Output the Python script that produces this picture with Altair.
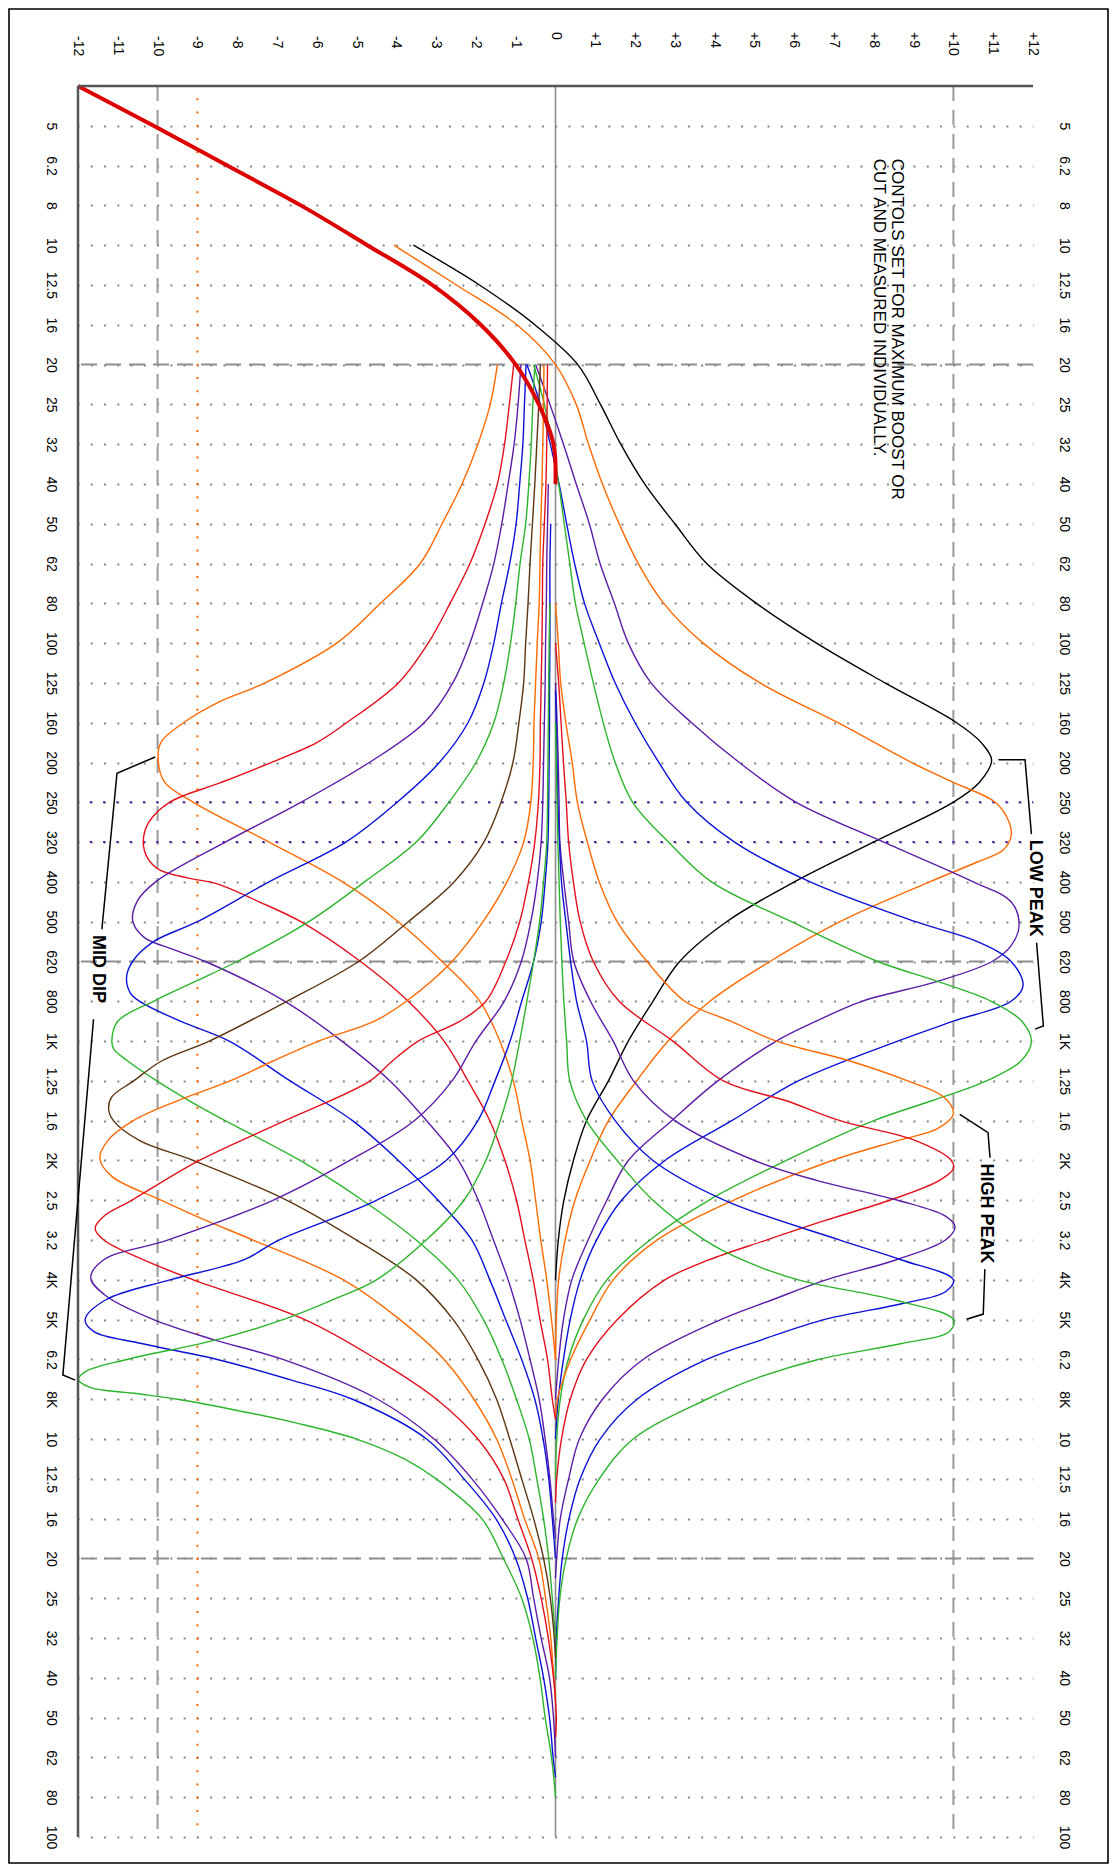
import json
import altair as alt
import pandas as pd

# ---------------------------------------------------------------- axes data
BAND_LABELS = ["5", "6.2", "8", "10", "12.5", "16", "20", "25", "32", "40", "50", "62", "80",
               "100", "125", "160", "200", "250", "320", "400", "500", "620", "800", "1K",
               "1.25", "1.6", "2K", "2.5", "3.2", "4K", "5K", "6.2", "8K", "10", "12.5", "16",
               "20", "25", "32", "40", "50", "62", "80", "100"]
DB_TICKS = list(range(-12, 13))
DB_LABELS = [("+%d" % v if v > 0 else "%d" % v) for v in DB_TICKS]
FIRST_BAND, LAST_BAND = -1, 43          # plot spans 4 Hz .. 100 kHz


def hz(band):
    """band index (0 = 5 Hz, ten bands per decade) -> Hz"""
    return 5.0 * 10 ** (band / 10.0)


# ---------------------------------------------------------------- curves  (band, dB)
HPF_RED = [(-1, -12.0), (0, -10.1), (1, -8.25), (2, -6.4), (3, -4.73), (4, -3.1), (5, -1.88),
           (6, -1.0), (7, -0.42), (8, -0.05), (9, 0.0)]

LOW_BLACK = [(3, -3.57), (4, -1.91), (5, -0.52), (6, 0.56), (7, 1.13), (8, 1.64), (9, 2.24),
             (10, 3.0), (11, 3.8), (12, 5.05), (13, 6.56), (14, 8.28), (15, 10.08), (15.5, 10.7),
             (15.94, 10.96), (16.5, 10.65), (17, 9.99), (18, 7.99), (19, 6.0), (20, 4.3),
             (21, 3.12), (22, 2.45), (23, 1.83), (24, 1.33), (25, 0.78), (26, 0.45), (27, 0.21),
             (28, 0.07), (29, 0.0)]
LOW_ORANGE = [(3, -4.06), (4, -2.49), (5, -0.97), (6, 0.0), (7, 0.52), (8, 0.83), (9, 1.18),
              (10, 1.6), (11, 2.08), (12, 2.72), (13, 3.71), (14, 5.14), (15, 7.1), (16, 8.95),
              (16.5, 10.0), (17, 11.05), (17.5, 11.4), (17.85, 11.45), (18.2, 11.25),
              (18.5, 10.6), (19, 9.4), (20, 7.15), (21, 5.39), (22, 3.88), (23, 2.83),
              (24, 2.04), (25, 1.33), (26, 0.87), (27, 0.49), (28, 0.24), (29, 0.08),
              (30, 0.02), (31, 0.0)]
LOW_PURPLE = [(6, -0.5), (7, -0.14), (8, 0.2), (9, 0.52), (10, 0.85), (11, 1.12), (12, 1.48),
              (13, 1.83), (14, 2.4), (15, 3.42), (16, 4.62), (17, 6.05), (18, 8.25), (19, 10.5),
              (19.5, 11.45), (20.1, 11.65), (20.6, 11.45), (21, 10.97), (21.5, 9.6), (22, 7.7),
              (22.5, 6.55), (23, 5.55), (24, 4.08), (25, 2.92), (26, 1.83), (27, 1.29),
              (28, 0.82), (29, 0.41), (30, 0.2), (31, 0.08), (32, 0.0)]
LOW_BLUE = [(6, -0.72), (7, -0.38), (8, -0.13), (9, 0.09), (10, 0.28), (11, 0.48), (12, 0.73),
            (13, 1.1), (14, 1.5), (15, 2.0), (16, 2.6), (17, 3.3), (18, 4.5), (19, 6.4),
            (20, 9.05), (20.5, 10.6), (21, 11.45), (21.6, 11.75), (22, 11.45), (22.5, 10.0),
            (23, 8.6), (24, 6.1), (25, 4.43), (26, 2.75), (27, 1.66), (28, 1.03), (29, 0.62),
            (30, 0.37), (31, 0.2), (32, 0.07), (33, 0.0)]
LOW_GREEN = [(6, -0.55), (7, -0.28), (8, -0.08), (9, 0.08), (10, 0.22), (11, 0.36), (12, 0.5),
             (13, 0.72), (14, 0.95), (15, 1.2), (16, 1.5), (17, 1.94), (18, 2.84), (19, 3.92),
             (20, 5.93), (21, 8.1), (21.5, 9.6), (22, 10.95), (22.5, 11.72), (23, 11.96),
             (23.5, 11.7), (24, 10.83), (24.5, 9.45), (25, 8.0), (26, 5.8), (27, 3.85),
             (28, 2.37), (29, 1.29), (30, 0.7), (31, 0.32), (32, 0.12), (33, 0.03), (34, 0.0)]

HIGH_ORANGE = [(12, 0.0), (13, 0.07), (14, 0.13), (15, 0.26), (16, 0.42), (17, 0.55), (18, 0.8),
               (19, 1.1), (20, 1.55), (21, 2.3), (22, 3.25), (22.5, 4.4), (23, 5.55),
               (23.5, 7.4), (24, 8.85), (24.4, 9.75), (24.83, 10.0), (25.2, 9.6), (25.5, 8.6),
               (26, 6.95), (27, 4.47), (28, 2.55), (29, 1.45), (30, 0.87), (31, 0.38),
               (32, 0.05), (32.5, 0.0)]
HIGH_RED = [(13, 0.0), (14, 0.08), (15, 0.14), (16, 0.2), (17, 0.27), (18, 0.33), (19, 0.45),
            (20, 0.62), (21, 0.95), (22, 1.6), (23, 2.95), (24, 4.22), (24.5, 5.8), (25, 7.15),
            (25.5, 9.05), (26, 9.95), (26.2, 10.0), (26.5, 9.65), (27, 8.4), (27.5, 6.8),
            (28, 5.3), (28.5, 3.85), (29, 2.75), (30, 1.55), (31, 0.78), (32, 0.37),
            (33, 0.15), (34, 0.03), (34.6, 0.0)]
HIGH_PURPLE = [(14, 0.0), (15, 0.04), (16, 0.07), (17, 0.09), (18, 0.11), (19, 0.21),
               (20, 0.33), (21, 0.46), (22, 0.88), (23, 1.45), (24, 1.96), (25, 3.0), (26, 5.0),
               (26.5, 6.56), (27, 8.6), (27.4, 9.8), (27.67, 10.04), (28, 9.8), (28.5, 8.55),
               (29, 6.8), (29.5, 5.45), (30, 4.15), (31, 2.2), (32, 1.18), (33, 0.6),
               (34, 0.33), (35, 0.12), (36, 0.03), (36.5, 0.0)]
HIGH_BLUE = [(14.2, 0.0), (15, 0.02), (16, 0.04), (17, 0.06), (18, 0.1), (19, 0.15), (20, 0.26),
             (21, 0.38), (22, 0.53), (23, 0.78), (24, 0.92), (25, 1.5), (26, 2.45), (27, 4.25),
             (28, 7.15), (28.5, 8.7), (29, 10.0), (29.3, 9.8), (29.6, 8.7), (30, 6.75),
             (30.5, 5.2), (31, 3.8), (32, 2.05), (33, 1.12), (34, 0.62), (35, 0.34),
             (36, 0.17), (37, 0.08), (38, 0.02), (39, 0.0)]
HIGH_GREEN = [(15, 0.0), (16, 0.02), (17, 0.04), (18, 0.06), (19, 0.09), (20, 0.12), (21, 0.16),
              (22, 0.21), (23, 0.28), (24, 0.36), (25, 0.78), (26, 1.55), (27, 2.45),
              (28, 3.75), (28.5, 4.7), (29, 6.1), (29.5, 8.5), (30, 10.0), (30.3, 9.9),
              (30.6, 8.7), (31, 6.6), (31.5, 4.97), (32, 3.8), (33, 1.95), (34, 1.1),
              (35, 0.56), (36, 0.27), (37, 0.11), (38, 0.04), (39, 0.0)]

CUT_ORANGE = [(6, -1.46), (7, -1.64), (8, -1.95), (9, -2.35), (10, -2.85), (11, -3.4),
              (12, -4.4), (13, -5.5), (14, -7.3), (14.5, -8.5), (15, -9.35), (15.5, -9.92),
              (16, -9.98), (16.5, -9.82), (17, -9.1), (18, -7.2), (19, -5.35), (20, -3.95),
              (21, -2.85), (22, -1.9), (23, -1.4), (24, -1.06), (25, -0.85), (26, -0.64),
              (27, -0.5), (28, -0.37), (29, -0.22), (30, -0.1), (31, 0.0)]
CUT_RED = [(6, -1.05), (7, -1.16), (8, -1.28), (9, -1.46), (10, -1.77), (11, -2.15),
           (12, -2.65), (13, -3.2), (14, -3.95), (15, -5.25), (15.5, -6.0), (16, -7.15),
           (16.5, -8.4), (17, -9.7), (17.5, -10.22), (18, -10.36), (18.4, -10.25),
           (18.7, -9.95), (18.9, -9.25), (19.05, -8.5), (19.5, -7.45), (20, -6.4), (21, -4.9),
           (22, -3.7), (23, -2.8), (24, -2.2), (25, -1.65), (26, -1.27), (27, -0.98),
           (28, -0.77), (29, -0.56), (30, -0.39), (31, -0.2), (32, -0.08), (32.5, 0.0)]
CUT_PURPLE = [(6, -0.87), (7, -0.94), (8, -1.04), (9, -1.19), (10, -1.35), (11, -1.55),
              (12, -1.83), (13, -2.15), (14, -2.58), (15, -3.3), (16, -4.68), (17, -6.4),
              (18, -8.3), (19, -10.05), (19.5, -10.52), (20, -10.62), (20.4, -10.33),
              (20.7, -9.6), (21, -8.8), (22, -6.8), (23, -5.37), (24, -4.16), (25, -3.24),
              (26, -2.44), (27, -1.94), (28, -1.56), (29, -1.19), (30, -0.89), (31, -0.64),
              (32, -0.41), (33, -0.26), (34, -0.14), (35, -0.05), (35.5, 0.0)]
CUT_BLUE = [(6, -0.74), (7, -0.78), (8, -0.82), (9, -0.9), (10, -0.99), (11, -1.15),
            (12, -1.36), (13, -1.55), (14, -1.8), (15, -2.2), (16, -2.92), (17, -3.98),
            (18, -5.27), (19, -7.2), (20, -9.0), (20.5, -10.1), (21, -10.63), (21.4, -10.78),
            (21.8, -10.68), (22, -10.45), (22.5, -9.43), (23, -8.2), (24, -6.67), (25, -5.1),
            (26, -3.95), (27, -2.95), (28, -2.1), (29, -1.65), (30, -1.25), (31, -0.85),
            (32, -0.52), (33, -0.31), (34, -0.17), (35, -0.08), (36, 0.0)]
CUT_GREEN = [(6, -0.52), (7, -0.57), (8, -0.61), (9, -0.67), (10, -0.75), (11, -0.89),
             (12, -1.0), (13, -1.13), (14, -1.3), (15, -1.55), (16, -2.0), (17, -2.68),
             (18, -3.5), (19, -4.8), (20, -6.2), (21, -8.0), (21.5, -9.05), (22, -10.1),
             (22.5, -11.0), (23, -11.15), (23.2, -11.1), (23.5, -10.75), (24, -10.02),
             (24.5, -9.2), (25, -8.3), (26, -6.42), (27, -4.85), (28, -3.5), (29, -2.45),
             (30, -1.81), (31, -1.35), (32, -0.98), (33, -0.66), (34, -0.47), (35, -0.3),
             (36, -0.17), (37, -0.08), (38, 0.0)]
CUT_BROWN = [(6, -0.38), (7, -0.42), (8, -0.47), (9, -0.52), (10, -0.58), (11, -0.64),
             (12, -0.69), (13, -0.75), (14, -0.8), (15, -0.92), (16, -1.07), (17, -1.37),
             (18, -1.8), (19, -2.55), (20, -3.7), (21, -4.95), (22, -6.75), (23, -8.7),
             (23.5, -9.9), (24, -10.6), (24.4, -11.15), (24.7, -11.23), (25, -11.11),
             (25.5, -10.45), (26, -9.1), (27, -6.75), (28, -5.0), (29, -3.5), (30, -2.57),
             (31, -1.95), (32, -1.48), (33, -1.15), (34, -0.85), (35, -0.55), (36, -0.3),
             (37, -0.13), (38, -0.03), (38.5, 0.0)]
CUT_ORANGE_HI = [(6, -0.29), (7, -0.3), (8, -0.32), (9, -0.34), (10, -0.37), (11, -0.39),
                 (12, -0.41), (13, -0.46), (14, -0.5), (15, -0.54), (16, -0.56), (17, -0.62),
                 (18, -0.8), (19, -1.22), (20, -1.82), (21, -2.6), (22, -3.75), (22.5, -4.55),
                 (23, -5.95), (23.5, -7.1), (24, -8.18), (24.5, -9.5), (25, -10.61),
                 (25.5, -11.25), (25.95, -11.45), (26.4, -11.15), (27, -9.9), (27.5, -8.8),
                 (28, -7.6), (29, -5.33), (30, -3.91), (31, -2.8), (32, -2.05), (33, -1.48),
                 (34, -1.1), (35, -0.78), (36, -0.42), (37, -0.25), (38, -0.12), (39, -0.04),
                 (39.5, 0.0)]
CUT_RED_HI = [(6, -0.2), (7, -0.21), (8, -0.22), (9, -0.24), (10, -0.28), (11, -0.32),
              (12, -0.33), (13, -0.34), (14, -0.36), (15, -0.38), (16, -0.39), (17, -0.43),
              (18, -0.52), (19, -0.68), (20, -0.9), (21, -1.25), (22, -1.75), (22.5, -2.4),
              (23, -3.45), (23.5, -4.1), (24, -4.66), (25, -6.8), (26, -8.95), (27, -10.65),
              (27.4, -11.35), (27.7, -11.57), (28, -11.35), (28.5, -10.35), (29, -9.1),
              (30, -6.3), (31, -4.49), (32, -2.99), (33, -1.95), (34, -1.3), (35, -0.95),
              (36, -0.6), (37, -0.36), (38, -0.18), (39, -0.05), (40, 0.02), (40.5, 0.0)]
CUT_PURPLE_HI = [(9, -0.18), (10, -0.2), (11, -0.22), (12, -0.23), (13, -0.25), (14, -0.26),
                 (15, -0.28), (16, -0.3), (17, -0.32), (18, -0.36), (19, -0.46), (20, -0.62),
                 (21, -0.86), (22, -1.29), (23, -2.0), (24, -2.6), (25, -3.55), (26, -5.17),
                 (27, -7.1), (28, -9.75), (28.5, -11.36), (28.95, -11.68), (29.4, -11.3),
                 (30, -10.1), (30.5, -8.6), (31, -6.85), (32, -4.47), (33, -3.05), (34, -2.1),
                 (35, -1.35), (36, -0.74), (37, -0.55), (38, -0.36), (39, -0.15), (40, -0.05),
                 (41, 0.0)]
CUT_BLUE_HI = [(10, -0.12), (11, -0.14), (12, -0.14), (13, -0.14), (14, -0.15), (15, -0.15),
               (16, -0.16), (17, -0.17), (18, -0.19), (19, -0.26), (20, -0.36), (21, -0.55),
               (22, -0.85), (23, -1.14), (24, -1.52), (25, -1.95), (26, -2.75), (27, -4.5),
               (28, -6.95), (28.5, -7.84), (29, -9.69), (29.5, -11.3), (30, -11.82),
               (30.3, -11.6), (30.6, -10.4), (31, -8.5), (31.5, -6.7), (32, -5.1), (33, -3.24),
               (34, -2.3), (35, -1.5), (36, -1.0), (37, -0.7), (38, -0.5), (39, -0.3),
               (40, -0.15), (41, -0.06), (41.5, 0.0)]
CUT_GREEN_HI = [(12, -0.14), (13, -0.16), (14, -0.17), (15, -0.18), (16, -0.19), (17, -0.2),
                (18, -0.22), (19, -0.3), (20, -0.4), (21, -0.55), (22, -0.72), (23, -0.9),
                (24, -1.1), (25, -1.39), (26, -1.75), (27, -2.3), (28, -3.25), (29, -4.5),
                (29.5, -5.6), (30, -6.85), (30.5, -8.5), (31, -10.77), (31.3, -11.8),
                (31.5, -11.99), (31.7, -11.7), (31.85, -10.6), (32, -9.5), (32.3, -7.9),
                (32.6, -6.5), (33, -5.0), (33.5, -3.8), (34, -3.0), (35, -1.85), (36, -1.31),
                (37, -0.85), (38, -0.57), (39, -0.39), (40, -0.26), (41, -0.1), (42, 0.0)]

# ---------------------------------------------------------------- annotations (band, dB)
BRACKETS = {
    "low1": [(15.93, 11.13), (15.93, 11.8), (17.8, 11.96)],
    "low2": [(20.53, 12.09), (22.62, 12.26), (22.7, 12.05)],
    "high1": [(24.84, 10.16), (25.3, 10.87), (25.93, 10.92)],
    "high2": [(28.73, 10.79), (29.86, 10.75), (29.99, 10.33)],
    "mid1": [(15.86, -10.06), (16.27, -11.02), (20.19, -11.4)],
    "mid2": [(22.45, -11.61), (31.39, -12.38), (31.52, -12.07)],
}
NOTE_LINES = ["CONTOLS SET FOR MAXIMUM BOOST OR", "CUT AND MEASURED INDIVIDUALLY."]
NOTE_POS = [(0.83, 8.57), (0.83, 8.12)]
GROUP_LABELS = ["LOW PEAK", "HIGH PEAK", "MID DIP"]
GROUP_POS = [(19.16, 12.05), (27.33, 10.83), (21.19, -11.5)]

# ---------------------------------------------------------------- styles
C_BLACK, C_ORANGE, C_PURPLE = "#000000", "#ff6a00", "#5b1ca8"
C_BLUE, C_GREEN, C_RED, C_BROWN = "#0b12d6", "#2cb52c", "#e3101c", "#5c3512"
FONT = "Liberation Sans, Arial, Helvetica, sans-serif"
GRID = "#858585"
DOT = [2, 11.27]

CURVES = [
    ("low_black", C_BLACK, LOW_BLACK), ("low_orange", C_ORANGE, LOW_ORANGE),
    ("low_purple", C_PURPLE, LOW_PURPLE), ("low_blue", C_BLUE, LOW_BLUE),
    ("low_green", C_GREEN, LOW_GREEN), ("high_orange", C_ORANGE, HIGH_ORANGE),
    ("high_red", C_RED, HIGH_RED), ("high_purple", C_PURPLE, HIGH_PURPLE),
    ("high_blue", C_BLUE, HIGH_BLUE), ("high_green", C_GREEN, HIGH_GREEN),
    ("cut_orange", C_ORANGE, CUT_ORANGE), ("cut_red", C_RED, CUT_RED),
    ("cut_purple", C_PURPLE, CUT_PURPLE), ("cut_blue", C_BLUE, CUT_BLUE),
    ("cut_green", C_GREEN, CUT_GREEN), ("cut_brown", C_BROWN, CUT_BROWN),
    ("cut_orange_hi", C_ORANGE, CUT_ORANGE_HI), ("cut_red_hi", C_RED, CUT_RED_HI),
    ("cut_purple_hi", C_PURPLE, CUT_PURPLE_HI), ("cut_blue_hi", C_BLUE, CUT_BLUE_HI),
    ("cut_green_hi", C_GREEN, CUT_GREEN_HI),
]

rows = []
for name, _, pts in CURVES:
    for i, (b, d) in enumerate(pts):
        rows.append({"curve": name, "i": i, "hz": hz(b), "db": d})
curves_df = pd.DataFrame(rows)
hpf_df = pd.DataFrame({"i": range(len(HPF_RED)), "hz": [hz(b) for b, _ in HPF_RED],
                       "db": [d for _, d in HPF_RED]})
br_rows = []
for g, pts in BRACKETS.items():
    for i, (b, d) in enumerate(pts):
        br_rows.append({"g": g, "i": i, "hz": hz(b), "db": d})
br_df = pd.DataFrame(br_rows)
notes_df = pd.DataFrame({"text": NOTE_LINES, "hz": [hz(b) for b, _ in NOTE_POS],
                         "db": [d for _, d in NOTE_POS]})
groups_df = pd.DataFrame({"text": GROUP_LABELS, "hz": [hz(b) for b, _ in GROUP_POS],
                          "db": [d for _, d in GROUP_POS]})
db_lab_df = pd.DataFrame({"db": DB_TICKS, "label": DB_LABELS})

# ---------------------------------------------------------------- scales & axes
X_SCALE = alt.Scale(domain=[-12, 12], nice=False, zero=False)
Y_SCALE = alt.Scale(type="log", domain=[hz(FIRST_BAND), hz(LAST_BAND)], reverse=True, nice=False)
band_values = [hz(b) for b in range(len(BAND_LABELS))]
band_expr = json.dumps(BAND_LABELS) + "[round(10*log(datum.value)/LN10 - 6.989700043)]"

X_AXIS = alt.Axis(orient="top", values=DB_TICKS, title=None, domain=False, ticks=False, tickSize=0,
                  labels=False, grid=True, gridColor=GRID, gridWidth=2,
                  gridDash=DOT, gridDashOffset=1, gridOpacity=1, zindex=0)
Y_AXIS_L = alt.Axis(orient="left", values=band_values, title=None, domain=False, ticks=False,
                    tickSize=0, labelExpr=band_expr, labelAngle=90, labelAlign="center",
                    labelBaseline="middle", labelPadding=28, labelFont=FONT, labelFontSize=14,
                    labelColor="black", labelFlush=False, labelOverlap=False, labelBound=False,
                    grid=True, gridColor=GRID, gridWidth=2, gridDash=DOT, gridDashOffset=1,
                    gridOpacity=1, zindex=0)
Y_AXIS_R = alt.Axis(orient="right", values=band_values, title=None, domain=False, ticks=False,
                    tickSize=0, labelExpr=band_expr, labelAngle=90, labelAlign="center",
                    labelBaseline="middle", labelPadding=30, labelFont=FONT, labelFontSize=14,
                    labelColor="black", labelFlush=False, labelOverlap=False, labelBound=False,
                    grid=False, zindex=0)

x_main = alt.X("db:Q", scale=X_SCALE, axis=X_AXIS)
x_plain = alt.X("db:Q", scale=X_SCALE, axis=None)
y_main = alt.Y("hz:Q", scale=Y_SCALE, axis=Y_AXIS_L)
y_right = alt.Y("hz:Q", scale=Y_SCALE, axis=Y_AXIS_R)
y_plain = alt.Y("hz:Q", scale=Y_SCALE, axis=None)

# ---------------------------------------------------------------- layers
border = alt.Chart(alt.Data(values=[{}])).mark_rect(filled=False, stroke="black", strokeWidth=1.6).encode(
    x=alt.value(-69), x2=alt.value(1030), y=alt.value(-77), y2=alt.value(1777))

db_labels_neg = alt.Chart(db_lab_df).transform_filter("datum.db < 0").mark_text(
    angle=90, align="left", baseline="middle", font=FONT, fontSize=14, color="black").encode(
    x=x_plain, y=alt.value(-50), text="label:N")
db_labels_pos = alt.Chart(db_lab_df).transform_filter("datum.db >= 0").mark_text(
    angle=90, align="left", baseline="middle", font=FONT, fontSize=14, color="black").encode(
    x=x_plain, y=alt.value(-54), text="label:N")

zero_rule = alt.Chart(pd.DataFrame({"db": [0]})).mark_rule(color="#8e8e8e", strokeWidth=1.6).encode(x=x_plain)
ten_rules = alt.Chart(pd.DataFrame({"db": [-10, 10]})).mark_rule(
    color="#9a9a9a", strokeWidth=2, strokeDash=[15, 9]).encode(x=x_plain)
nine_rule = alt.Chart(pd.DataFrame({"db": [-9]})).mark_rule(
    color=C_ORANGE, strokeWidth=2, strokeDash=DOT, strokeDashOffset=1).encode(x=x_plain)
left_frame = alt.Chart(pd.DataFrame({"db": [-12]})).mark_rule(color="#555555", strokeWidth=2.5).encode(x=x_plain)
band_dashes = alt.Chart(pd.DataFrame({"hz": [hz(6), hz(21), hz(36)]})).mark_rule(
    color="#8e8e8e", strokeWidth=2, strokeDash=[16, 8]).encode(y=y_plain)
violet_dots = alt.Chart(pd.DataFrame({"hz": [hz(17), hz(18)]})).mark_rule(
    color="#4a12b0", strokeWidth=2, strokeDash=DOT, strokeDashOffset=1).encode(y=y_plain)
top_frame = alt.Chart(pd.DataFrame({"hz": [hz(FIRST_BAND)]})).mark_rule(
    color="#555555", strokeWidth=2.5).encode(y=y_right)

curves = alt.Chart(curves_df).mark_line(strokeWidth=1.4, interpolate="catmull-rom").encode(
    x=x_main, y=y_main,
    color=alt.Color("curve:N", scale=alt.Scale(domain=[c[0] for c in CURVES], range=[c[1] for c in CURVES]),
                    legend=None),
    order=alt.Order("i:Q"))
hpf = alt.Chart(hpf_df).mark_line(strokeWidth=4, color="#dd0000", interpolate="catmull-rom").encode(
    x=x_plain, y=y_plain, order=alt.Order("i:Q"))
brackets = alt.Chart(br_df).mark_line(strokeWidth=1.5, color="black").encode(
    x=x_plain, y=y_plain, detail="g:N", order=alt.Order("i:Q"))
notes = alt.Chart(notes_df).mark_text(angle=90, align="left", baseline="middle", font=FONT,
                                      fontSize=17, color="black").encode(x=x_plain, y=y_plain, text="text:N")
groups = alt.Chart(groups_df).mark_text(angle=90, align="center", baseline="middle", font=FONT,
                                        fontSize=18, fontWeight="bold", color="black").encode(
    x=x_plain, y=y_plain, text="text:N")

chart = alt.layer(
    border, db_labels_neg, db_labels_pos, zero_rule, ten_rules, nine_rule, band_dashes,
    violet_dots, curves, hpf, left_frame, top_frame, brackets, notes, groups
).resolve_axis(y="independent").properties(
    width=955, height=1751,
    padding={"left": 70, "top": 78, "right": 77, "bottom": 28},
    autosize=alt.AutoSizeParams(type="none"),
    background="white",
).configure_view(stroke=None)

chart.save("out.html", embed_options={"renderer": "svg", "actions": False})
